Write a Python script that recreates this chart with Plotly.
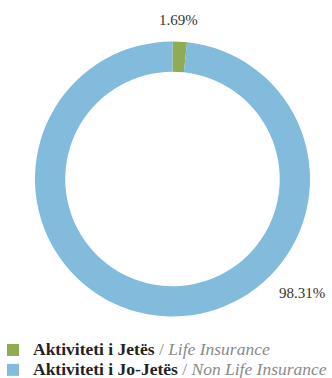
import plotly.graph_objects as go

labels_sq = ["Aktiviteti i Jetës", "Aktiviteti i Jo-Jetës"]
labels_en = ["Life Insurance", "Non Life Insurance"]
values = [1.69, 98.31]
colors = ["#8fac55", "#82bbdb"]

W, H = 332, 378
FONT = "Liberation Serif"

legend_names = [
    f"<span style='font-size:17.5px'><b>{sq}</b> "
    f"<span style='color:#8a8a8a'>/ <i>{en}</i></span></span>"
    for sq, en in zip(labels_sq, labels_en)
]

fig = go.Figure()
fig.add_trace(go.Pie(
    labels=legend_names,
    values=values,
    marker=dict(colors=colors, line=dict(width=0)),
    hole=0.78,
    sort=False,
    direction="clockwise",
    rotation=0,
    textinfo="none",
    hoverinfo="label+percent",
    domain=dict(x=[35 / W, 310 / W], y=[(H - 316.5) / H, (H - 41.5) / H]),
))

label_pos = [(178 / W, 1 - 20 / H), (302 / W, 1 - 293 / H)]
for v, (x, y) in zip(values, label_pos):
    fig.add_annotation(
        x=x, y=y, xref="paper", yref="paper",
        xanchor="center", yanchor="middle",
        text=f"{v:.2f}%", showarrow=False,
        font=dict(family=FONT, size=15, color="#333333"),
    )

fig.update_layout(
    width=W, height=H,
    margin=dict(l=0, r=0, t=0, b=0, autoexpand=False),
    paper_bgcolor="white",
    plot_bgcolor="white",
    showlegend=True,
    legend=dict(
        x=-7 / W, y=1 - 335 / H, xanchor="left", yanchor="top",
        font=dict(family=FONT, size=13, color="#222222"),
        bgcolor="rgba(0,0,0,0)",
        itemwidth=30,
        tracegroupgap=0,
    ),
)

fig.write_html("out.html", config={"displayModeBar": False},
               post_script="document.body.style.margin='0';")
